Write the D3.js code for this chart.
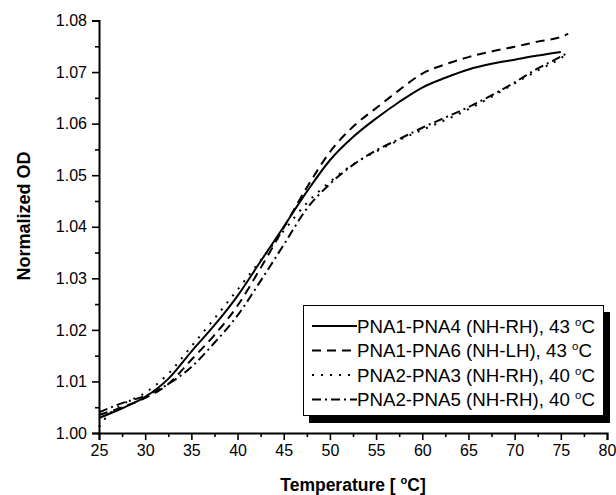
<!DOCTYPE html>
<html>
<head>
<meta charset="utf-8">
<script src="https://cdn.jsdelivr.net/npm/d3@7"></script>
<style>
  html, body { margin: 0; padding: 0; background: #fff; }
  svg { display: block; font-family: "Liberation Sans", Arial, sans-serif; }
</style>
</head>
<body>
<svg id="chart" width="616" height="495"></svg>
<script>
// ---- Data ----
const xTicks = [25, 30, 35, 40, 45, 50, 55, 60, 65, 70, 75, 80];
const yTicks = [1.00, 1.01, 1.02, 1.03, 1.04, 1.05, 1.06, 1.07, 1.08];

const tempA = [25, 27.5, 30, 32.5, 35, 37.5, 40, 42.5, 45, 47.5, 50, 52.5, 55, 57.5, 60, 62.5, 65, 67.5, 70, 72.5, 75];
const pna1pna4 = [1.0029, 1.0048, 1.0070, 1.0105, 1.0158, 1.0209, 1.0266, 1.0333, 1.0400, 1.0468, 1.0529, 1.0574, 1.0610, 1.0642, 1.0670, 1.0689, 1.0705, 1.0716, 1.0724, 1.0732, 1.0739];

const tempB = [25, 27.5, 30, 32.5, 35, 37.5, 40, 42.5, 45, 47.5, 50, 52.5, 55, 57.5, 60, 62.5, 65, 67.5, 70, 72.5, 75, 75.8];
const pna1pna6 = [1.0035, 1.0050, 1.0068, 1.0095, 1.0142, 1.0190, 1.0247, 1.0320, 1.0398, 1.0476, 1.0545, 1.0594, 1.0630, 1.0665, 1.0697, 1.0715, 1.0729, 1.0740, 1.0749, 1.0759, 1.0768, 1.0774];

const tempC = [25, 26, 27.5, 30, 32.5, 35, 37.5, 40, 42.5, 45, 47.5, 50, 52.5, 55, 57.5, 60, 62.5, 65, 67.5, 70, 72.5, 75, 75.5];
const pna2pna3 = [1.0012, 1.0035, 1.0055, 1.0078, 1.0115, 1.0168, 1.0222, 1.0278, 1.0335, 1.0392, 1.0446, 1.0487, 1.0521, 1.0546, 1.0568, 1.0588, 1.0607, 1.0628, 1.0652, 1.0678, 1.0703, 1.0727, 1.0733];

const tempD = [25, 27.5, 30, 32.5, 35, 37.5, 40, 42.5, 45, 47.5, 50, 52.5, 55, 57.5, 60, 62.5, 65, 67.5, 70, 72.5, 75, 75.5];
const pna2pna5 = [1.0040, 1.0058, 1.0072, 1.0095, 1.0128, 1.0175, 1.0228, 1.0295, 1.0365, 1.0435, 1.0483, 1.0520, 1.0548, 1.0570, 1.0592, 1.0612, 1.0632, 1.0655, 1.0680, 1.0707, 1.0730, 1.0735];

const seriesNames = ["PNA1-PNA4 (NH-RH), 43 ", "PNA1-PNA6 (NH-LH), 43 ", "PNA2-PNA3 (NH-RH), 40 ", "PNA2-PNA5 (NH-RH), 40 "];
const dashStyles = [null, "9,6", "2,7", "9,4,2,4"];

// ---- Chart ----
const svg = d3.select("#chart");
const x = d3.scaleLinear().domain([25, 80]).range([99, 607]);
const y = d3.scaleLinear().domain([1.00, 1.08]).range([433, 20.5]);

const series = [
  { t: tempA, v: pna1pna4 },
  { t: tempB, v: pna1pna6 },
  { t: tempC, v: pna2pna3 },
  { t: tempD, v: pna2pna5 }
];

// minor ticks
const xMinor = d3.range(27.5, 80, 5);
const yMinor = d3.range(1.005, 1.08, 0.01);

const gx = svg.append("g").attr("transform", "translate(0,433)");
gx.call(d3.axisBottom(x).tickValues(xMinor).tickSize(4).tickFormat(""))
  .call(g => g.select(".domain").remove());
gx.append("g").call(d3.axisBottom(x).tickValues(xTicks).tickSize(7).tickPadding(5).tickFormat(d3.format("d")));

const gy = svg.append("g").attr("transform", "translate(99,0)");
gy.call(d3.axisLeft(y).tickValues(yMinor).tickSize(4).tickFormat(""))
  .call(g => g.select(".domain").remove());
gy.append("g").call(d3.axisLeft(y).tickValues(yTicks).tickSize(7).tickPadding(5).tickFormat(d3.format(".2f")));

svg.selectAll(".domain").attr("stroke", "#000").attr("stroke-width", 2);
svg.selectAll(".tick line").attr("stroke", "#000").attr("stroke-width", 1.6);
svg.selectAll(".tick text").attr("font-size", 16).attr("fill", "#000")
   .attr("font-family", "'Liberation Sans', Arial, sans-serif");

// curves
const line = d3.line().x(d => x(d[0])).y(d => y(d[1])).curve(d3.curveMonotoneX);
series.forEach((s, i) => {
  const pts = s.t.map((t, k) => [t, s.v[k]]);
  const p = svg.append("path").datum(pts)
    .attr("d", line)
    .attr("fill", "none")
    .attr("stroke", "#000")
    .attr("stroke-width", 2);
  if (dashStyles[i]) p.attr("stroke-dasharray", dashStyles[i]);
});

// axis titles
const xt = svg.append("text")
  .attr("x", 353).attr("y", 491)
  .attr("text-anchor", "middle")
  .attr("font-size", 17.5).attr("font-weight", "bold");
xt.append("tspan").text("Temperature [ ");
xt.append("tspan").attr("font-size", 11).attr("dy", -7).text("o");
xt.append("tspan").attr("dy", 7).text("C]");

svg.append("text")
  .attr("transform", "translate(30,216) rotate(-90)")
  .attr("text-anchor", "middle")
  .attr("font-size", 18).attr("font-weight", "bold")
  .text("Normalized OD");

// legend
const lg = svg.append("g");
lg.append("rect").attr("x", 309).attr("y", 312).attr("width", 301).attr("height", 111).attr("fill", "#000");
lg.append("rect").attr("x", 303.5).attr("y", 305.5).attr("width", 300).attr("height", 110)
  .attr("fill", "#fff").attr("stroke", "#000").attr("stroke-width", 1);
const rowY = [326, 350.5, 375, 399.5];
seriesNames.forEach((name, i) => {
  const ln = lg.append("line")
    .attr("x1", 312).attr("x2", 357)
    .attr("y1", rowY[i]).attr("y2", rowY[i])
    .attr("stroke", "#000").attr("stroke-width", 2);
  if (dashStyles[i]) ln.attr("stroke-dasharray", dashStyles[i]);
  const tx = lg.append("text")
    .attr("x", 357).attr("y", rowY[i] + 6.5)
    .attr("font-size", 18.7);
  tx.append("tspan").text(name);
  tx.append("tspan").attr("font-size", 11.5).attr("dy", -7).text("o");
  tx.append("tspan").attr("dy", 7).text("C");
});
</script>
</body>
</html>
